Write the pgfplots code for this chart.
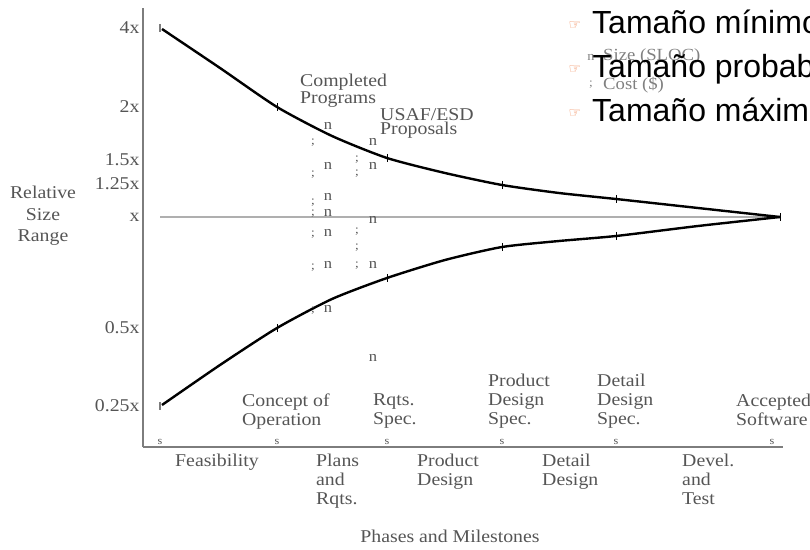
\documentclass[border=0pt]{standalone}
\usepackage{pgfplots}
\pgfplotsset{compat=1.18}
\usepackage{fontspec}
\setmainfont{Liberation Serif}[FakeStretch=1.1]
\newfontfamily\arialfont{Liberation Sans}
\newfontfamily\symfont{DejaVu Sans}
\definecolor{txt}{RGB}{85,85,85}
\definecolor{axgray}{RGB}{125,125,125}
\definecolor{lightline}{RGB}{175,175,175}
\definecolor{bulletc}{RGB}{240,135,85}
\newcommand{\lbl}{\fontsize{18}{19}\selectfont}
\begin{document}
\begin{tikzpicture}[x=1pt,y=1pt]
\begin{axis}[
  at={(143pt,102pt)}, anchor=south west,
  x=1pt, y=1pt,
  xmin=143, xmax=783, ymin=0, ymax=439,
  axis lines=left,
  axis line style={-, draw=axgray, line width=1.5pt},
  xtick=\empty,
  ytick={419,340,287,263,230,119,41},
  yticklabels={4x,2x,1.5x,1.25x,x,0.5x,0.25x},
  major tick length=0pt,
  yticklabel style={font=\lbl, text=txt},
  clip=false,
  text mark as node=true,
]
% reference line
\addplot[lightline, line width=2pt] coordinates {(160,230) (780,230)};
% upper and lower bounds
\addplot[black, line width=2.4pt, smooth, tension=0.4] coordinates {(162,418) (220,379) (277,340) (332,311) (387,289) (445,274) (502,262) (559,254) (616,248) (698,239) (780,230)};
\addplot[black, line width=2.4pt, smooth, tension=0.4] coordinates {(162,42) (220,82) (277,119) (332,148) (387,169) (445,187) (502,200) (559,206) (616,211) (698,221) (780,230)};
% milestone ticks on the curves
\addplot[only marks, mark=|, mark size=4pt, black, mark options={line width=1pt}] coordinates {(277,340) (387,289) (502,262) (616,248) (780,230) (277,119) (387,169) (502,200) (616,211)};
\addplot[only marks, mark=|, mark size=4pt, axgray, mark options={line width=1.5pt}] coordinates {(160,419) (160,41)};
% milestone markers on the x axis
\addplot[only marks, mark=text, text mark={s}, text mark style={font=\fontsize{11}{11}\selectfont, text=txt, inner sep=0}] coordinates {(160,5) (277,5) (387,5) (502,5) (616,5) (772,5)};
% Size (SLOC) data
\addplot[only marks, mark=text, text mark={n}, text mark style={font=\fontsize{15}{15}\selectfont, text=txt, inner sep=0}] coordinates {(328,321) (328,281) (328,250) (328,234) (328,214) (328,182) (328,138) (373,305) (373,281) (373,227) (373,182) (373,89)};
% Cost ($) data
\addplot[only marks, mark=text, text mark={;}, text mark style={font=\fontsize{12}{12}\selectfont, text=txt, inner sep=0}] coordinates {(313,304) (313,272) (313,244) (313,233) (313,212) (313,179) (313,136) (357,287) (357,273) (357,215) (357,199) (357,181)};
% legend of data
\addplot[only marks, mark=text, text mark={n}, text mark style={font=\fontsize{13}{13}\selectfont, text=black!50, inner sep=0}] coordinates {(591,390)};
\addplot[only marks, mark=text, text mark={;}, text mark style={font=\fontsize{12}{12}\selectfont, text=black!50, inner sep=0}] coordinates {(591,362)};
\node[anchor=west, inner sep=0, text=black!50, font=\fontsize{17}{17}\selectfont] at (axis cs:603,391) {Size (SLOC)};
\node[anchor=west, inner sep=0, text=black!50, font=\fontsize{17}{17}\selectfont] at (axis cs:603,362) {Cost (\$)};
% phase labels below axis
\begin{scope}[every node/.style={anchor=north west, inner sep=0, align=left, text=txt, font=\lbl}]
\node at (axis cs:175,-7) {Feasibility};
\node at (axis cs:316,-7) {Plans\\and\\Rqts.};
\node at (axis cs:417,-7) {Product\\Design};
\node at (axis cs:542,-7) {Detail\\Design};
\node at (axis cs:682,-7) {Devel.\\and\\Test};
% milestone labels above axis
\node at (axis cs:242,53) {Concept of\\Operation};
\node at (axis cs:373,53) {Rqts.\\Spec.};
\node at (axis cs:488,73) {Product\\Design\\Spec.};
\node at (axis cs:597,73) {Detail\\Design\\Spec.};
\node at (axis cs:736,53) {Accepted\\Software};
\node[font=\fontsize{18}{17}\selectfont] at (axis cs:300,373) {Completed\\Programs};
\node[font=\fontsize{18}{14}\selectfont] at (axis cs:380,339) {USAF/ESD\\Proposals};
\end{scope}
\node[align=center, text=txt, font=\fontsize{18}{21.5}\selectfont] at (axis cs:43,231) {Relative\\Size\\Range};
\node[text=txt, font=\lbl] at (axis cs:450,-89) {Phases and Milestones};
% bullet text
\node[anchor=base west, inner sep=0, font=\arialfont\fontsize{32}{32}\selectfont] at (axis cs:592,413) {Tamaño mínimo};
\node[anchor=base west, inner sep=0, font=\arialfont\fontsize{32}{32}\selectfont] at (axis cs:592,369) {Tamaño probable};
\node[anchor=base west, inner sep=0, font=\arialfont\fontsize{32}{32}\selectfont] at (axis cs:592,325) {Tamaño máximo};
\node[inner sep=0, text=bulletc, font=\symfont\fontsize{14}{14}\selectfont] at (axis cs:575,421) {☞};
\node[inner sep=0, text=bulletc, font=\symfont\fontsize{14}{14}\selectfont] at (axis cs:575,377) {☞};
\node[inner sep=0, text=bulletc, font=\symfont\fontsize{14}{14}\selectfont] at (axis cs:575,333) {☞};
\end{axis}
\pgfresetboundingbox
\path (0,0) rectangle (810,549);
\end{tikzpicture}
\end{document}
